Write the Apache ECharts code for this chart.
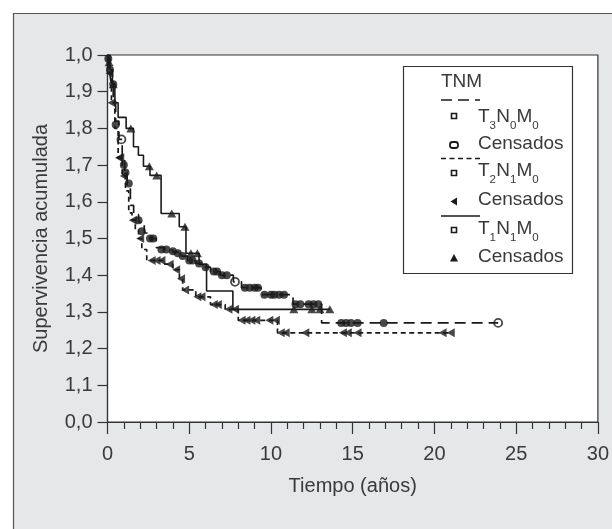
<!DOCTYPE html>
<html>
<head>
<meta charset="utf-8">
<script src="https://cdn.jsdelivr.net/npm/echarts@6/dist/echarts.min.js"></script>
<style>
  html, body { margin: 0; padding: 0; background: #fff; }
  #chart { width: 612px; height: 529px; }
</style>
</head>
<body>
<div id="chart"></div>
<script>
// Curvas de supervivencia (Kaplan-Meier) por estadio TNM
const yTickLabels = ['0,0', '1,1', '1,2', '1,3', '1,4', '1,5', '1,6', '1,7', '1,8', '1,9', '1,0'];

// T3N0M0 (discontinua)
const t3Time = [0, 0.08, 0.2, 0.35, 0.5, 0.7, 0.9, 1.05, 1.2, 1.4, 1.6, 1.9, 2.25, 2.6, 2.98, 3.5, 4.0, 4.5, 4.9, 5.4, 5.8, 6.3, 6.9, 7.7, 8.2, 9.4, 11.35, 13.1, 23.9];
const t3Surv = [1.0, 0.97, 0.93, 0.88, 0.82, 0.77, 0.72, 0.68, 0.64, 0.59, 0.565, 0.545, 0.515, 0.50, 0.475, 0.468, 0.462, 0.452, 0.44, 0.432, 0.422, 0.41, 0.40, 0.382, 0.366, 0.347, 0.321, 0.27, 0.27];
const t3Cens = [[0.05, 0.99], [0.15, 0.96], [0.35, 0.92], [0.5, 0.81], [1.0, 0.70], [1.1, 0.68], [1.3, 0.65], [1.9, 0.55], [2.1, 0.52], [2.6, 0.50], [2.8, 0.50],
  [3.3, 0.47], [3.6, 0.47], [4.0, 0.465], [4.3, 0.46], [4.6, 0.452], [5.0, 0.44], [5.2, 0.44], [5.6, 0.432], [6.0, 0.422],
  [6.5, 0.41], [6.7, 0.41], [7.0, 0.40], [7.3, 0.40], [8.4, 0.366], [8.7, 0.366], [9.0, 0.366], [9.2, 0.366], [9.6, 0.347],
  [10.0, 0.347], [10.2, 0.347], [10.5, 0.347], [10.8, 0.347], [11.5, 0.321], [11.8, 0.321], [12.3, 0.321], [12.6, 0.321],
  [12.9, 0.321], [14.3, 0.27], [14.6, 0.27], [14.9, 0.27], [15.3, 0.27], [16.9, 0.27]];
const t3CensOpen = [[0.85, 0.77], [7.8, 0.382], [23.9, 0.27]];

// T2N1M0 (punteada)
const t2Time = [0, 0.1, 0.24, 0.45, 0.65, 0.9, 1.1, 1.3, 1.5, 1.7, 1.9, 2.1, 2.4, 3.5, 4.0, 4.4, 4.6, 5.4, 6.3, 7.2, 8.0, 10.4, 21.0];
const t2Surv = [1.0, 0.95, 0.87, 0.80, 0.72, 0.67, 0.63, 0.57, 0.55, 0.525, 0.50, 0.47, 0.44, 0.43, 0.415, 0.39, 0.36, 0.341, 0.32, 0.307, 0.277, 0.243, 0.243];
const t2Cens = [[0.12, 0.95], [0.25, 0.87], [0.7, 0.72], [0.78, 0.72], [1.0, 0.67], [1.55, 0.55], [2.0, 0.50], [2.7, 0.44], [3.0, 0.44], [3.3, 0.44],
  [3.8, 0.43], [4.2, 0.415], [4.5, 0.39], [4.75, 0.36], [5.5, 0.341], [5.75, 0.341], [6.5, 0.32], [6.75, 0.32], [7.4, 0.307],
  [7.8, 0.307], [8.2, 0.277], [8.5, 0.277], [8.8, 0.277], [9.1, 0.277], [9.9, 0.277], [10.3, 0.277], [10.6, 0.243],
  [10.9, 0.243], [12.1, 0.243], [14.4, 0.243], [14.7, 0.243], [15.3, 0.243], [20.5, 0.243], [21.0, 0.243]];

// T1N1M0 (continua)
const t1Time = [0, 0.15, 0.3, 0.45, 0.65, 1.14, 1.59, 1.89, 2.2, 2.6, 3.28, 4.39, 4.8, 5.6, 6.06, 7.67, 13.6];
const t1Surv = [1.0, 0.96, 0.92, 0.87, 0.83, 0.80, 0.75, 0.727, 0.697, 0.672, 0.568, 0.532, 0.46, 0.43, 0.357, 0.307, 0.307];
const t1Cens = [[0.1, 0.98], [0.35, 0.92], [1.43, 0.80], [2.56, 0.697], [3.01, 0.672], [3.93, 0.568], [4.74, 0.532], [5.1, 0.46], [5.5, 0.46],
  [11.4, 0.307], [12.5, 0.307], [13.0, 0.307], [13.6, 0.307]];

// etiquetas de la leyenda: letra + subíndice
const stageT3 = [['T', '3'], ['N', '0'], ['M', '0']];
const stageT2 = [['T', '2'], ['N', '1'], ['M', '0']];
const stageT1 = [['T', '1'], ['N', '1'], ['M', '0']];

const INK = '#1a1a1a';
const TXT = '#3a3a3a';
const FONT = 'Liberation Sans';

function pairs(t, s) { return t.map((v, i) => [v, s[i]]); }

const chart = echarts.init(document.getElementById('chart'), null, { renderer: 'canvas' });

// leyenda dibujada a mano (TNM + muestras)
const legendX = 441, markX = 454, textX = 478;
const letterW = { T: 11.6, N: 13.7, M: 15.8 };

function label(y, txt) {
  return { type: 'text', left: textX, top: y - 11, z: 110,
    style: { text: txt, font: '19px "' + FONT + '"', fill: TXT } };
}
function stageLabel(y, parts) {
  const els = [];
  let x = textX;
  parts.forEach(([L, d]) => {
    els.push({ type: 'text', left: x, top: y - 11, z: 110,
      style: { text: L, font: '19px "' + FONT + '"', fill: TXT } });
    x += letterW[L];
    els.push({ type: 'text', left: x, top: y + 2, z: 110,
      style: { text: d, font: '11.5px "' + FONT + '"', fill: TXT } });
    x += 6.6;
  });
  return els;
}
function sq(y) {
  return { type: 'rect', z: 110, shape: { x: markX - 2.5, y: y - 2.5, width: 5, height: 5 },
    style: { fill: '#fff', stroke: INK, lineWidth: 1.6 } };
}

const legend = [
  { type: 'rect', z: 100, shape: { x: 403.5, y: 66.5, width: 169, height: 207 },
    style: { fill: '#fff', stroke: '#333', lineWidth: 1.2 } },
  { type: 'text', left: legendX, top: 72, z: 110, style: { text: 'TNM', font: '19px "' + FONT + '"', fill: TXT } },
  { type: 'line', z: 110, shape: { x1: legendX, y1: 100, x2: 480, y2: 100 }, style: { stroke: INK, lineWidth: 1.5, lineDash: [11, 6] } },
  sq(116), ...stageLabel(118, stageT3),
  { type: 'rect', z: 110, shape: { x: markX - 4, y: 142, width: 8, height: 6, r: 2.5 }, style: { fill: '#fff', stroke: INK, lineWidth: 1.8 } },
  label(145, 'Censados'),
  { type: 'line', z: 110, shape: { x1: legendX, y1: 158.5, x2: 480, y2: 158.5 }, style: { stroke: INK, lineWidth: 1.5, lineDash: [5, 3.5] } },
  sq(173), ...stageLabel(172, stageT2),
  { type: 'polygon', z: 110, shape: { points: [[markX - 3.5, 201.5], [markX + 3, 197.5], [markX + 3, 205.5]] }, style: { fill: INK } },
  label(201.5, 'Censados'),
  { type: 'line', z: 110, shape: { x1: legendX, y1: 216, x2: 480, y2: 216 }, style: { stroke: INK, lineWidth: 1.5 } },
  sq(230), ...stageLabel(230, stageT1),
  { type: 'polygon', z: 110, shape: { points: [[markX, 254], [markX - 4, 261.5], [markX + 4, 261.5]] }, style: { fill: INK } },
  label(258, 'Censados')
];

chart.setOption({
  animation: false,
  backgroundColor: '#ffffff',
  textStyle: { fontFamily: FONT },
  graphic: [
    { type: 'rect', z: -100, shape: { x: 13.5, y: 13.5, width: 700, height: 700 },
      style: { fill: '#e6e7e9', stroke: '#555', lineWidth: 1.2 } }
  ].concat(legend),
  grid: {
    left: 107.5, right: 14, top: 55, bottom: 107,
    show: true, backgroundColor: '#ffffff', borderColor: '#333', borderWidth: 1.2
  },
  xAxis: {
    type: 'value', min: 0, max: 30, interval: 5,
    name: 'Tiempo (años)', nameLocation: 'middle', nameGap: 54,
    nameTextStyle: { fontFamily: FONT, fontSize: 20, color: TXT },
    axisLine: { show: true, lineStyle: { color: '#333', width: 1.2 } },
    axisTick: { show: true, length: 12, lineStyle: { color: '#333', width: 1.2 } },
    minorTick: { show: true, splitNumber: 5, length: 7, lineStyle: { color: '#333', width: 1.2 } },
    axisLabel: { fontFamily: FONT, fontSize: 20, color: TXT, margin: 22 },
    splitLine: { show: false }
  },
  yAxis: {
    type: 'value', min: 0, max: 1, interval: 0.1,
    name: 'Supervivencia acumulada', nameLocation: 'middle', nameGap: 56,
    nameTextStyle: { fontFamily: FONT, fontSize: 20, color: TXT },
    axisLine: { show: true, lineStyle: { color: '#333', width: 1.2 } },
    axisTick: { show: true, length: 10, lineStyle: { color: '#333', width: 1.2 } },
    axisLabel: { fontFamily: FONT, fontSize: 20, color: TXT, margin: 15,
      formatter: v => yTickLabels[Math.round(v * 10)] },
    splitLine: { show: false }
  },
  series: [
    { name: 'T3N0M0', type: 'line', step: 'end', showSymbol: false, data: pairs(t3Time, t3Surv),
      lineStyle: { color: INK, width: 1.7, type: [11, 6] } },
    { name: 'T2N1M0', type: 'line', step: 'end', showSymbol: false, data: pairs(t2Time, t2Surv),
      lineStyle: { color: INK, width: 1.7, type: [5, 3.5] } },
    { name: 'T1N1M0', type: 'line', step: 'end', showSymbol: false, data: pairs(t1Time, t1Surv),
      lineStyle: { color: INK, width: 1.6, type: 'solid' } },
    { name: 'Censados T3', type: 'scatter', data: t3Cens, symbol: 'circle', symbolSize: 8,
      itemStyle: { color: INK } },
    { name: 'Censados T3 abiertos', type: 'scatter', data: t3CensOpen, symbol: 'circle', symbolSize: 8,
      itemStyle: { color: '#fff', borderColor: INK, borderWidth: 1.8 } },
    { name: 'Censados T2', type: 'scatter', data: t2Cens, symbol: 'path://M0,5L9,0L9,10Z', symbolSize: [8, 9],
      itemStyle: { color: INK } },
    { name: 'Censados T1', type: 'scatter', data: t1Cens, symbol: 'triangle', symbolSize: [9, 8],
      itemStyle: { color: INK } }
  ]
});
</script>
</body>
</html>
